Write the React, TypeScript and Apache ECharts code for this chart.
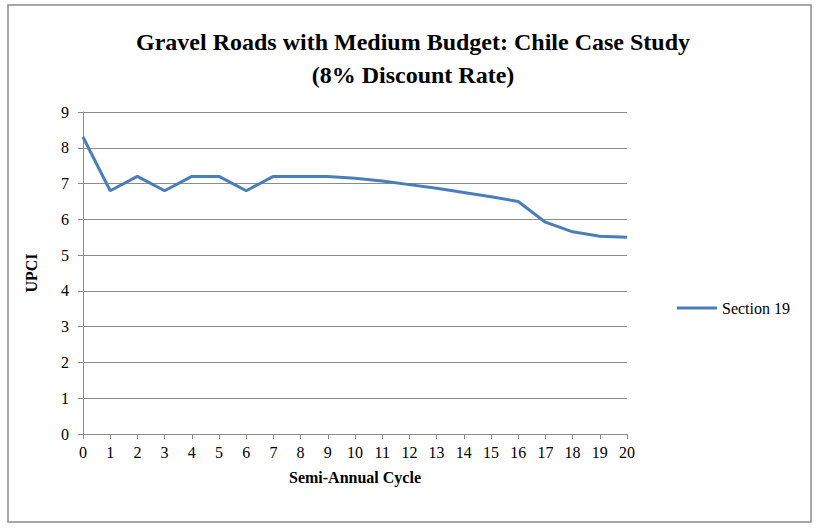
import { useEffect, useRef } from 'react';
import * as echarts from 'echarts';

const cycles = ['0','1','2','3','4','5','6','7','8','9','10','11','12','13','14','15','16','17','18','19','20'];
const section19 = [8.3, 6.8, 7.2, 6.8, 7.2, 7.2, 6.8, 7.2, 7.2, 7.2, 7.15, 7.07, 6.97, 6.87, 6.75, 6.63, 6.5, 5.92, 5.65, 5.53, 5.5];

const font = '"Liberation Serif", "Times New Roman", serif';

export default function App() {
  const ref = useRef<HTMLDivElement>(null);

  useEffect(() => {
    if (!ref.current) return;
    const chart = echarts.init(ref.current, null, { renderer: 'svg' });
    chart.setOption({
      animation: false,
      backgroundColor: '#fff',
      textStyle: { fontFamily: font },
      title: {
        text: 'Gravel Roads with Medium Budget: Chile Case Study\n(8% Discount Rate)',
        left: 408,
        textAlign: 'center',
        top: 20,
        textStyle: { fontFamily: font, fontSize: 24, fontWeight: 'bold', color: '#000', lineHeight: 33 },
      },
      graphic: [
        { type: 'rect', shape: { x: 8, y: 5, width: 803, height: 517 }, style: { fill: 'none', stroke: '#8c8c8c', lineWidth: 1.5 } },
      ],
      legend: {
        right: 24,
        top: 295,
        itemWidth: 40,
        icon: 'path://M0,0 L40,0 L40,3 L0,3 Z',
        textStyle: { fontFamily: font, fontSize: 16, color: '#000' },
        data: ['Section 19'],
      },
      grid: { left: 83, right: 192, top: 112, bottom: 96 },
      xAxis: {
        type: 'category',
        data: cycles,
        boundaryGap: false,
        name: 'Semi-Annual Cycle',
        nameLocation: 'middle',
        nameGap: 35,
        nameTextStyle: { fontFamily: font, fontSize: 16, fontWeight: 'bold', color: '#000' },
        axisLine: { lineStyle: { color: '#8c8c8c' } },
        axisTick: { show: true, alignWithLabel: true, lineStyle: { color: '#8c8c8c' } },
        axisLabel: { color: '#000', fontSize: 16, fontFamily: font, interval: 0, margin: 10 },
      },
      yAxis: {
        type: 'value',
        min: 0,
        max: 9,
        interval: 1,
        name: 'UPCI',
        nameLocation: 'middle',
        nameGap: 44,
        nameTextStyle: { fontFamily: font, fontSize: 16, fontWeight: 'bold', color: '#000' },
        axisLine: { show: true, lineStyle: { color: '#8c8c8c' } },
        axisTick: { show: true, lineStyle: { color: '#8c8c8c' } },
        axisLabel: { color: '#000', fontSize: 16, fontFamily: font, margin: 14 },
        splitLine: { lineStyle: { color: '#8c8c8c' } },
      },
      series: [
        {
          name: 'Section 19',
          type: 'line',
          data: section19,
          showSymbol: false,
          symbol: 'none',
          lineStyle: { color: '#4a7ebb', width: 3 },
          itemStyle: { color: '#4a7ebb' },
        },
      ],
    });
    return () => chart.dispose();
  }, []);

  return <div ref={ref} style={{ position: 'fixed', left: 0, top: 0, width: 819, height: 530 }} />;
}
